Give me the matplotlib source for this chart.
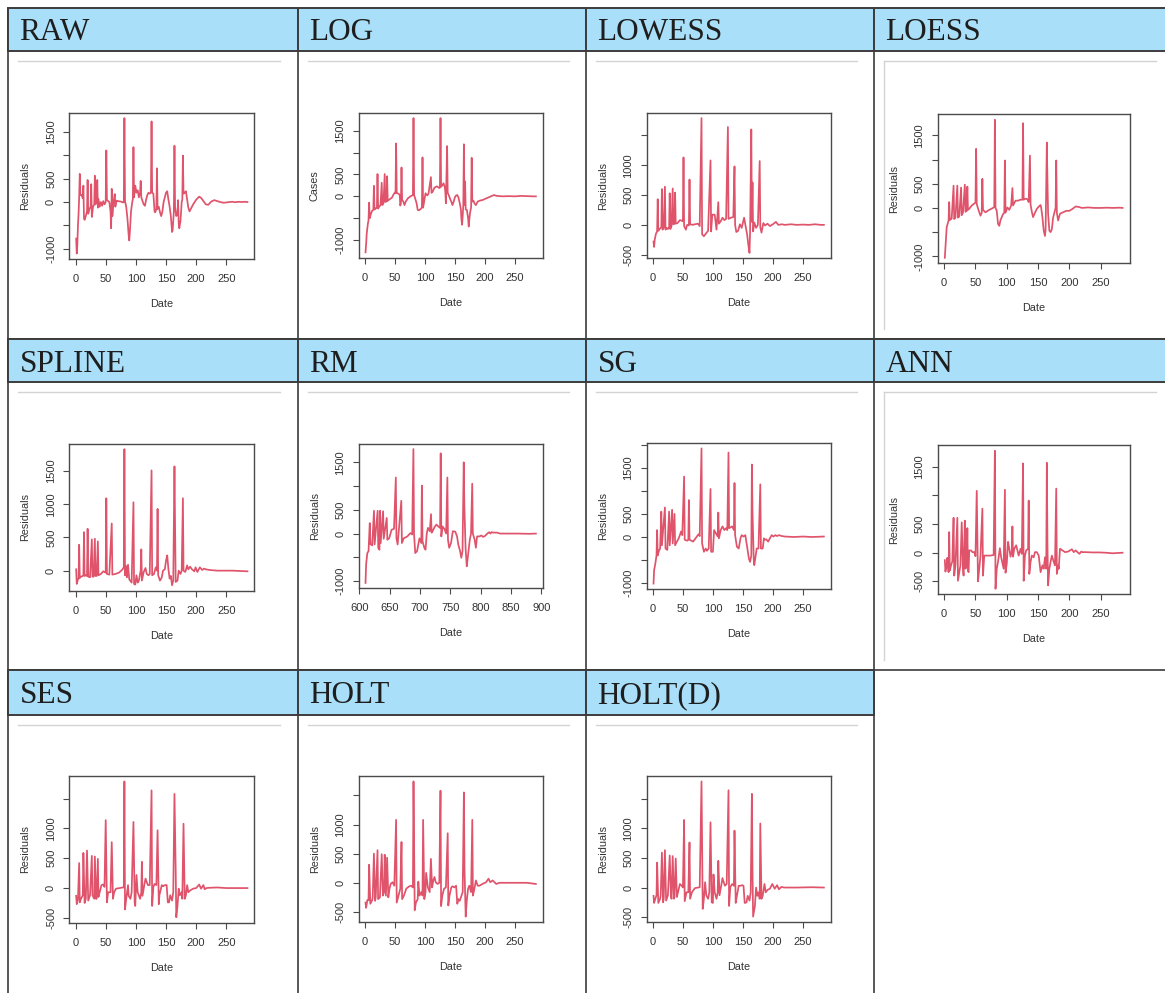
import matplotlib
matplotlib.use('Agg')
import matplotlib.pyplot as plt
from matplotlib.patches import Rectangle

plt.rcParams['font.family'] = ['Liberation Sans', 'DejaVu Sans']

# ---------------- data (day, residual) ----------------
raw = [(1,-780),(2,-1100),(3,-900),(4,-500),(5,-250),(6,100),(7,600),(8,150),(10,150),(12,80),
       (13,350),(14,-350),(15,-380),(17,-300),(19,-200),(20,470),(21,-250),(23,-150),(25,-100),(26,380),
       (27,-320),(29,-100),(31,-50),(32,560),(33,-50),(35,0),(36,470),(37,-120),(38,60),(40,-100),
       (42,0),(44,-80),(46,20),(48,-50),(50,0),(51,1100),(52,50),(54,20),(56,0),(58,-200),
       (59,-560),(60,280),(61,-300),(63,0),(65,170),(66,-100),(68,30),(70,20),(75,10),(79,-10),
       (80,0),(81,1790),(82,20),(84,-100),(86,-350),(88,-700),(89,-820),(90,-650),(92,-200),(94,0),
       (95,50),(96,1170),(97,100),(99,350),(101,200),(103,250),(105,100),(107,200),(108,450),(109,100),
       (111,20),(113,-50),(115,-80),(117,50),(119,150),(121,200),(123,180),(125,200),(126,1720),(127,200),
       (129,180),(131,-200),(132,-220),(134,-150),(135,720),(136,-150),(138,-100),(140,-220),(142,-300),(144,-200),
       (146,0),(148,100),(150,200),(152,230),(154,50),(156,-100),(158,-300),(160,-640),(161,-600),(163,-200),
       (164,1200),(165,-100),(167,-300),(169,-250),(170,40),(171,-450),(172,-560),(174,-400),(176,0),(177,50),
       (178,990),(179,180),(181,200),(183,230),(185,50),(187,-120),(189,-200),(191,-150),(195,-50),(200,50),
       (205,115),(208,90),(212,20),(216,-50),(220,-60),(225,10),(230,40),(235,20),(240,0),(245,-15),
       (250,-10),(255,0),(260,5),(265,-5),(270,5),(275,0),(280,5),(285,0)]

log_ = [(1,-1280),(2,-1100),(3,-850),(5,-620),(6,-550),(7,-145),(8,-500),(10,-400),(12,-330),(14,-310),
        (15,240),(16,-300),(18,-280),(20,-250),(21,510),(22,-280),(24,-230),(26,-200),(28,310),(29,-200),
        (31,-150),(33,510),(34,-130),(35,-80),(36,-120),(37,460),(38,-100),(40,-80),(42,-60),(45,-30),
        (48,50),(50,90),(51,70),(52,1210),(53,80),(56,60),(58,30),(59,-210),(60,-150),(61,660),
        (62,-80),(64,-120),(66,-200),(68,-120),(72,-40),(76,0),(80,30),(81,1790),(82,30),(84,-60),
        (86,-150),(88,-310),(90,-320),(93,-290),(95,-250),(96,890),(97,-260),(99,-100),(101,70),(104,20),
        (106,60),(110,440),(111,80),(113,110),(116,200),(120,230),(124,190),(125,200),(126,1790),(127,220),
        (129,250),(131,300),(133,220),(134,110),(135,-160),(137,1150),(138,80),(140,20),(142,-60),(144,-120),
        (146,-200),(148,-120),(150,-20),(152,20),(154,30),(156,-30),(158,-150),(160,-300),(161,-540),(162,-650),
        (163,-450),(164,-200),(165,1190),(166,-200),(167,340),(168,-300),(170,-310),(172,-500),(173,-690),(175,-400),
        (177,-250),(178,880),(179,-120),(181,-100),(183,-170),(185,-200),(188,-120),(191,-100),(194,-90),(197,-80),
        (200,-60),(205,-30),(210,0),(215,30),(220,10),(230,0),(240,5),(250,0),(260,10),(270,5),(280,0),(285,0)]

lowess = [(1,-280),(2,-370),(3,-250),(5,-150),(7,-110),(8,430),(9,-100),(12,-60),(14,-40),(15,600),
          (16,-80),(18,-50),(20,640),(21,-80),(23,-50),(25,-70),(27,-40),(28,530),(29,-70),(31,-20),
          (33,610),(34,10),(36,20),(37,540),(38,20),(41,30),(45,80),(48,70),(50,60),(51,1130),
          (52,-20),(55,-80),(57,0),(60,-10),(61,760),(62,10),(66,0),(70,10),(75,20),(78,-20),
          (81,1790),(82,-160),(85,-190),(88,-150),(92,-100),(96,1080),(97,-110),(99,170),(103,170),(106,-80),
          (109,380),(110,20),(113,60),(116,120),(119,80),(122,100),(125,1640),(126,100),(130,120),(134,130),
          (136,980),(137,0),(139,-120),(142,-100),(145,10),(148,-50),(152,120),(155,-50),(157,-160),(159,-330),
          (161,-470),(162,-100),(164,1600),(165,50),(166,710),(167,-110),(169,40),(172,-50),(175,0),(178,1070),
          (179,-40),(181,-130),(184,30),(187,-10),(191,20),(195,-20),(200,10),(205,50),(209,0),(215,10),
          (220,0),(230,10),(240,0),(250,5),(260,0),(270,10),(280,0),(285,0)]

loess = [(1,-1030),(2,-820),(4,-400),(7,-260),(8,120),(9,-250),(12,-220),(15,460),(16,-230),(18,-200),
         (21,460),(22,-200),(24,-180),(27,420),(28,-150),(30,-100),(33,480),(34,-80),(36,-60),(37,440),
         (38,-40),(40,-20),(44,50),(48,90),(50,110),(51,1220),(52,80),(55,-50),(58,-160),(60,-100),
         (61,600),(62,-40),(66,-90),(72,-40),(78,0),(80,20),(81,1820),(82,0),(84,-60),(86,-330),
         (88,-370),(90,-250),(94,-130),(96,-100),(97,980),(98,-100),(101,10),(104,-40),(107,50),(109,410),
         (110,50),(114,150),(118,150),(122,170),(125,170),(126,1750),(127,170),(130,190),(133,180),(135,120),
         (137,1080),(138,70),(140,-80),(142,-190),(145,-100),(148,-20),(152,40),(154,60),(155,0),(157,-200),
         (159,-470),(161,-580),(162,-450),(164,1350),(165,540),(166,-120),(168,-470),(170,-500),(172,-440),(174,-200),
         (178,0),(179,980),(180,-100),(182,-260),(185,-120),(190,-90),(195,-60),(200,-60),(205,-20),(210,30),
         (215,20),(220,0),(230,10),(240,0),(250,0),(260,5),(270,0),(280,5),(285,0)]

spline = [(1,20),(2,-200),(4,-130),(5,-120),(6,390),(7,-110),(9,-90),(12,-80),(13,-70),(14,580),
          (15,-80),(17,-70),(19,-80),(20,630),(21,-90),(24,-100),(27,470),(28,-90),(30,-90),(32,480),
          (33,-80),(35,-80),(37,440),(38,-70),(42,-50),(46,-10),(48,-20),(50,-30),(51,1090),(52,-50),
          (56,-60),(60,710),(61,-60),(66,-50),(72,-30),(77,10),(80,50),(81,1830),(82,-70),(84,70),
          (85,-100),(87,90),(89,-130),(93,-180),(96,1030),(97,-200),(99,-210),(101,-70),(103,-180),(105,-150),
          (108,0),(109,320),(110,-150),(113,-20),(116,40),(118,-50),(121,-70),(123,-50),(126,1510),(127,-70),
          (130,-50),(133,50),(135,0),(136,930),(137,-70),(140,-150),(143,-100),(145,0),(148,20),(150,150),
          (152,230),(154,20),(156,-120),(158,-80),(160,-220),(162,-150),(164,1570),(165,680),(166,-170),(169,-150),
          (171,0),(174,-50),(176,0),(178,1090),(179,0),(182,-20),(185,80),(187,20),(190,60),(193,20),
          (197,-10),(199,50),(202,-20),(206,50),(210,10),(213,30),(216,20),(222,10),(235,0),(260,0),(285,-10)]

rm = [(610,-1040),(611,-650),(613,-410),(615,-370),(617,220),(618,-220),(621,-250),(624,480),(625,-230),(630,480),
      (631,-300),(633,-340),(634,480),(635,-200),(639,470),(640,-110),(645,330),(646,-130),(649,-100),(653,80),
      (657,100),(660,1180),(661,-100),(663,-230),(669,690),(670,-200),(673,-100),(679,-60),(684,10),(687,-20),
      (689,1780),(690,0),(692,-410),(695,-370),(699,-100),(702,-200),(703,1010),(704,-160),(707,-300),(709,-340),
      (711,0),(713,120),(716,50),(718,410),(719,20),(721,60),(724,140),(727,190),(730,150),(733,120),
      (734,1690),(735,-60),(737,150),(740,100),(743,0),(745,1180),(746,-130),(748,-300),(751,-200),(754,50),
      (758,40),(761,-60),(763,-230),(766,-370),(768,-510),(770,-370),(772,1500),(773,610),(775,-300),(777,-690),
      (778,-580),(782,-130),(784,0),(786,1050),(787,0),(790,-130),(792,-300),(794,-60),(798,-60),(801,-40),
      (804,-70),(807,-50),(811,0),(814,30),(816,0),(818,30),(821,20),(827,20),(832,0),(860,0),
      (880,-5),(891,0)]

sg = [(1,-1010),(2,-720),(4,-580),(6,-400),(7,150),(8,-400),(10,-300),(12,-250),(14,550),(15,-180),
      (20,640),(21,-250),(24,-280),(27,550),(28,-180),(32,590),(33,-140),(36,500),(37,-180),(40,-100),
      (43,-30),(47,120),(49,40),(52,1310),(53,-60),(57,-80),(59,-60),(60,800),(61,-60),(67,-100),
      (71,-30),(76,60),(78,20),(81,1920),(82,-140),(85,-320),(88,-250),(90,-300),(93,-250),(96,1040),
      (97,-320),(100,-320),(102,150),(105,80),(108,10),(109,530),(110,-30),(113,150),(116,230),(119,150),
      (122,190),(124,150),(126,1830),(127,190),(132,230),(135,150),(136,1170),(137,40),(140,-210),(143,-250),
      (146,-30),(148,40),(151,10),(154,40),(157,-210),(160,-470),(162,-540),(164,-400),(165,1570),(166,550),
      (168,-470),(169,-610),(171,-430),(173,-250),(176,-250),(179,1140),(180,-250),(183,-250),(185,-30),(187,-60),
      (189,-50),(192,-100),(195,-30),(198,40),(201,10),(204,40),(207,20),(210,40),(215,20),(220,10),
      (235,0),(250,10),(265,0),(285,10)]

ann = [(1,-130),(2,-330),(4,-200),(5,-90),(7,-340),(8,360),(9,-310),(11,-220),(13,-150),(15,610),
       (16,-400),(18,-220),(21,610),(22,-490),(25,-280),(26,-220),(28,530),(30,-280),(31,-400),(33,560),
       (34,-280),(36,-220),(37,430),(38,-310),(39,-340),(40,40),(43,40),(45,10),(48,10),(50,-60),
       (52,1080),(54,-500),(56,-280),(58,-50),(61,770),(62,-400),(64,-50),(68,-50),(74,-50),(79,-40),
       (81,1780),(82,-630),(84,-280),(86,-160),(89,80),(91,-80),(95,-280),(97,1100),(98,-350),(100,-190),
       (102,190),(104,70),(106,-70),(108,30),(109,460),(110,-70),(112,70),(115,130),(117,40),(119,-50),
       (122,70),(124,-20),(126,1560),(127,-490),(129,-50),(131,40),(134,70),(135,910),(136,-370),(138,-160),
       (140,-50),(143,-80),(145,10),(148,10),(151,-50),(154,-340),(157,-220),(159,-280),(161,-80),(163,-280),
       (164,1570),(165,130),(166,-570),(168,-280),(170,-160),(172,-50),(175,-160),(177,-220),(179,1120),(180,-370),
       (182,-220),(183,-280),(185,70),(189,40),(193,10),(198,20),(204,60),(207,10),(210,40),(213,10),
       (216,-20),(219,20),(221,10),(226,10),(237,5),(248,5),(258,0),(269,-10),(285,0)]

ses = [(1,-130),(2,-270),(4,-190),(6,420),(7,-240),(9,-180),(12,-120),(13,590),(15,-250),(17,-180),
       (19,630),(21,-210),(24,-120),(27,540),(28,-120),(31,-180),(32,530),(34,-180),(35,-180),(37,490),
       (38,-150),(40,-70),(43,50),(46,60),(48,20),(50,1140),(52,-240),(54,-70),(58,-70),(60,770),
       (62,-180),(64,-70),(67,-10),(73,0),(78,10),(80,10),(81,1790),(82,-360),(84,-180),(87,50),
       (88,-130),(91,-180),(93,-70),(96,1110),(98,-240),(99,-300),(101,220),(103,-70),(107,-180),(109,-70),
       (110,440),(111,-130),(114,50),(116,160),(118,100),(120,50),(123,50),(126,1640),(127,-300),(129,20),
       (131,70),(134,50),(136,970),(138,-270),(139,-120),(143,50),(145,30),(148,50),(151,50),(153,-240),
       (155,-240),(157,-120),(160,-210),(162,-70),(164,1580),(166,320),(167,-490),(169,-300),(171,-10),(173,-120),
       (176,-70),(177,-180),(179,1080),(181,-180),(183,-120),(185,50),(187,-70),(190,-40),(195,-10),(200,0),
       (205,60),(208,-10),(212,50),(214,-20),(217,0),(222,5),(235,10),(250,0),(270,0),(285,0)]

holt = [(1,-340),(2,-430),(4,-300),(6,-300),(7,310),(9,-360),(12,-300),(13,-250),(15,500),(17,-310),
        (18,-250),(21,560),(22,-280),(25,-250),(28,490),(30,-220),(32,-160),(33,480),(35,-220),(37,430),
        (39,-250),(41,-100),(43,-20),(46,10),(49,-50),(52,1080),(53,-340),(56,-220),(59,-100),(61,700),
        (62,-280),(65,-220),(69,-100),(74,-60),(77,-50),(80,-80),(81,1740),(83,-470),(85,-340),(88,-280),
        (89,20),(91,-220),(94,-160),(96,-220),(97,1080),(99,-280),(101,-160),(102,170),(105,-80),(108,-160),
        (110,410),(112,-80),(114,40),(116,100),(118,10),(121,-20),(124,0),(126,1580),(127,-400),(129,-220),
        (132,-100),(135,-80),(138,850),(139,-390),(141,-220),(144,-80),(146,-60),(149,-80),(152,-50),(154,-360),
        (156,-280),(158,-310),(161,-220),(163,-160),(165,1550),(166,240),(168,-580),(170,-280),(172,-100),(174,-50),
        (177,-160),(179,1080),(180,-220),(182,-130),(185,40),(188,-50),(191,-50),(196,-20),(202,10),(206,70),
        (209,10),(213,40),(216,10),(219,-20),(224,0),(230,0),(245,0),(270,0),(285,-20)]

holt_d = [(1,-140),(2,-260),(4,-190),(6,-130),(7,420),(9,-260),(12,-190),(13,-130),(15,590),(17,-250),
          (18,-190),(20,630),(22,-220),(25,-130),(28,540),(30,-130),(31,-190),(33,530),(35,-190),(36,-160),
          (38,490),(40,-160),(42,-70),(45,60),(48,30),(50,0),(52,1140),(53,-230),(56,-80),(59,-80),
          (61,760),(62,-190),(65,-80),(70,-10),(78,5),(81,1790),(83,-360),(85,-190),(87,90),(89,-130),
          (92,-190),(94,-80),(96,1100),(98,-250),(100,-260),(101,220),(103,-80),(106,-190),(108,-80),(109,450),
          (111,-130),(114,40),(116,160),(118,90),(120,30),(123,60),(126,1640),(127,-310),(129,5),(132,60),
          (135,30),(136,960),(138,-260),(140,-140),(143,30),(146,30),(149,40),(151,30),(153,-260),(156,-250),
          (158,-140),(161,-220),(163,-80),(165,1580),(166,300),(167,-490),(170,-310),(172,0),(174,-140),(176,-80),
          (178,-190),(179,1080),(181,-190),(183,-140),(186,60),(188,-80),(191,-40),(195,-20),(199,60),(203,-20),
          (207,40),(210,-30),(214,10),(219,0),(225,0),(240,0),(265,5),(285,0)]

titles = ['RAW', 'LOG', 'LOWESS', 'LOESS', 'SPLINE', 'RM', 'SG', 'ANN', 'SES', 'HOLT', 'HOLT(D)']
series = [raw, log_, lowess, loess, spline, rm, sg, ann, ses, holt, holt_d]
ylabels = ['Residuals', 'Cases'] + ['Residuals'] * 9

yt_a = [-1000, -500, 0, 500, 1000, 1500]
yl_a = ['-1000', '', '0', '500', '', '1500']
yt_b = [-500, 0, 500, 1000, 1500]
yl_b = ['-500', '0', '500', '1000', '']
yt_sp = [0, 500, 1000, 1500]
yl_sp = ['0', '500', '1000', '1500']
yt_sg = [-1000, -500, 0, 500, 1000, 1500, 2000]
yl_sg = ['-1000', '', '0', '500', '', '1500', '']
yl_ann = ['-500', '0', '500', '', '1500']
xt_day = [0, 50, 100, 150, 200, 250]
xt_rm = [600, 650, 700, 750, 800, 850, 900]

yticks = [yt_a, yt_a, yt_b, yt_a, yt_sp, yt_a, yt_sg, yt_b, yt_b, yt_b, yt_b]
ytlabels = [yl_a, yl_a, yl_b, yl_a, yl_sp, yl_a, yl_sg, yl_ann, yl_b, yl_b, yl_b]
xticks = [xt_day] * 5 + [xt_rm] + [xt_day] * 5

# ---------------- layout (pixels) ----------------
W, H = 1165, 993
fig = plt.figure(figsize=(W / 100, H / 100), dpi=100)
bg = fig.add_axes([0, 0, 1, 1])
bg.set_xlim(0, W)
bg.set_ylim(H, 0)
bg.axis('off')

col_left = [8, 297.5, 586, 874]
col_right = [297.5, 586, 874, 1175]
row_top = [7.5, 338.5, 670]
row_hdr = [51, 382, 715]
row_bot = [338.5, 670, 1000]
base_y = [40, 372, 703]

boxes = [(69.3, 112.7, 254.3, 259.0), (358.7, 112.7, 542.7, 257.7), (646.7, 112.7, 830.7, 258.3),
         (937.7, 114.3, 1129.7, 263.3), (69.3, 443.7, 254.3, 590.7), (358.7, 443.7, 542.7, 588.3),
         (646.7, 443.0, 830.7, 589.0), (937.7, 445.3, 1129.7, 594.3), (69.3, 776.0, 254.3, 922.7),
         (358.7, 776.0, 542.7, 922.0), (646.7, 776.0, 830.7, 922.0)]

border = '#4a4a4a'
# horizontal table lines
for y in [338.5, 670]:
    bg.plot([col_left[0], W + 5], [y, y], color=border, lw=1.3, solid_capstyle='butt')
# vertical table lines
for c in range(4):
    bg.plot([col_left[c], col_left[c]], [row_top[0], H + 5], color=border, lw=1.3, solid_capstyle='butt')

for i, title in enumerate(titles):
    r, c = divmod(i, 4)
    x0, x1 = col_left[c], col_right[c]
    bg.add_patch(Rectangle((x0, row_top[r]), x1 - x0, row_hdr[r] - row_top[r],
                           facecolor='#A9DFF9', edgecolor='#3c3c3c', lw=1.4, zorder=2))
    bg.text(x0 + 11.5, base_y[r], title, family=['Liberation Serif', 'DejaVu Serif'],
            fontsize=22.5, color='#1e1e1e', ha='left', va='baseline', zorder=3)
    gy = row_hdr[r] + 10
    bg.plot([x0 + 10, x1 - 17.5 if c < 3 else 1156], [gy, gy], color='#d3d3d3', lw=1.0, zorder=2)
    if c == 3:
        bg.plot([884.3, 884.3], [gy, row_bot[r] - 10], color='#d3d3d3', lw=1.0, zorder=2)

    # the R-style plot
    l, t, rr, b = boxes[i]
    ax = fig.add_axes([l / W, 1 - b / H, (rr - l) / W, (b - t) / H])
    xs = [p[0] for p in series[i]]
    ys = [p[1] for p in series[i]]
    ax.plot(xs, ys, color='#DF536B', lw=1.25, solid_joinstyle='round')
    ax.margins(x=0.04, y=0.04)
    ax.set_xticks(xticks[i])
    ax.set_xticklabels([str(v) for v in xticks[i]])
    ax.set_yticks(yticks[i])
    ax.set_yticklabels(ytlabels[i], rotation=90, va='center')
    for s in ax.spines.values():
        s.set_color('#4a4a4a')
        s.set_linewidth(1.0)
    ax.tick_params(direction='out', length=4.3, width=0.8, color='#4a4a4a',
                   labelsize=8.0, labelcolor='#333333')
    ax.tick_params(axis='x', pad=6.6)
    ax.tick_params(axis='y', pad=5.2)
    bg.text((l + rr) / 2, b + 45, 'Date', fontsize=7.8, color='#333333', ha='center', va='center')
    bg.text(l - 44, (t + b) / 2, ylabels[i], fontsize=7.8, color='#333333', rotation=90,
            ha='center', va='center')

fig.savefig('out.png', dpi=100)
